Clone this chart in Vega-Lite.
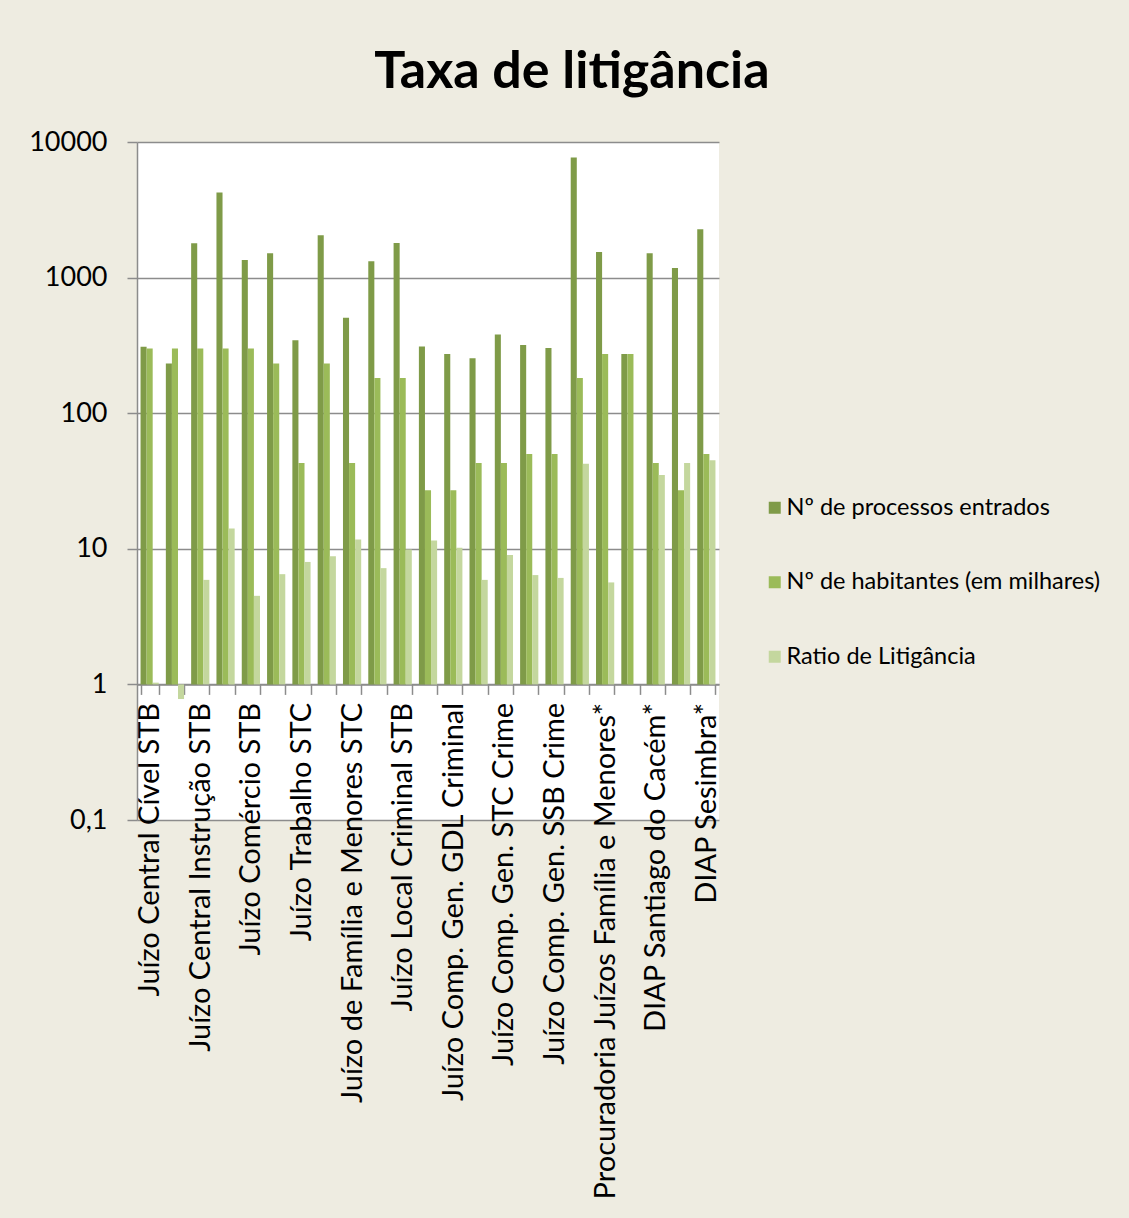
{
  "$schema": "https://vega.github.io/schema/vega-lite/v6.json",
  "autosize": {"type": "none"},
  "width": 582,
  "height": 678,
  "padding": {"left": 137, "top": 142, "right": 410, "bottom": 398},
  "background": "#EEECE1",
  "title": {
    "text": "Taxa de litigância",
    "font": "Lato",
    "fontSize": 52,
    "fontWeight": "bold",
    "color": "#000000",
    "anchor": "middle",
    "frame": "group",
    "dx": 144,
    "baseline": "alphabetic",
    "offset": -12
  },
  "data": {
    "values": [
      {"cat": "Juízo Central Cível STB", "serie": "Nº de processos entrados", "valor": 309},
      {"cat": "Juízo Central Cível STB", "serie": "Nº de habitantes (em milhares)", "valor": 300},
      {"cat": "Juízo Central Cível STB", "serie": "Ratio de Litigância", "valor": 1.03},
      {"cat": "Juízo Central Criminal STB", "serie": "Nº de processos entrados", "valor": 233},
      {"cat": "Juízo Central Criminal STB", "serie": "Nº de habitantes (em milhares)", "valor": 300},
      {"cat": "Juízo Central Criminal STB", "serie": "Ratio de Litigância", "valor": 0.78},
      {"cat": "Juízo Central Instrução STB", "serie": "Nº de processos entrados", "valor": 1790},
      {"cat": "Juízo Central Instrução STB", "serie": "Nº de habitantes (em milhares)", "valor": 300},
      {"cat": "Juízo Central Instrução STB", "serie": "Ratio de Litigância", "valor": 5.9},
      {"cat": "Juízo Execução STB", "serie": "Nº de processos entrados", "valor": 4250},
      {"cat": "Juízo Execução STB", "serie": "Nº de habitantes (em milhares)", "valor": 300},
      {"cat": "Juízo Execução STB", "serie": "Ratio de Litigância", "valor": 14.1},
      {"cat": "Juízo Comércio STB", "serie": "Nº de processos entrados", "valor": 1350},
      {"cat": "Juízo Comércio STB", "serie": "Nº de habitantes (em milhares)", "valor": 300},
      {"cat": "Juízo Comércio STB", "serie": "Ratio de Litigância", "valor": 4.5},
      {"cat": "Juízo Trabalho STB", "serie": "Nº de processos entrados", "valor": 1510},
      {"cat": "Juízo Trabalho STB", "serie": "Nº de habitantes (em milhares)", "valor": 233},
      {"cat": "Juízo Trabalho STB", "serie": "Ratio de Litigância", "valor": 6.5},
      {"cat": "Juízo Trabalho STC", "serie": "Nº de processos entrados", "valor": 345},
      {"cat": "Juízo Trabalho STC", "serie": "Nº de habitantes (em milhares)", "valor": 43},
      {"cat": "Juízo Trabalho STC", "serie": "Ratio de Litigância", "valor": 8.0},
      {"cat": "Juízo de Família e Menores STB", "serie": "Nº de processos entrados", "valor": 2050},
      {"cat": "Juízo de Família e Menores STB", "serie": "Nº de habitantes (em milhares)", "valor": 233},
      {"cat": "Juízo de Família e Menores STB", "serie": "Ratio de Litigância", "valor": 8.8},
      {"cat": "Juízo de Família e Menores STC", "serie": "Nº de processos entrados", "valor": 505},
      {"cat": "Juízo de Família e Menores STC", "serie": "Nº de habitantes (em milhares)", "valor": 43},
      {"cat": "Juízo de Família e Menores STC", "serie": "Ratio de Litigância", "valor": 11.7},
      {"cat": "Juízo Local Cível STB", "serie": "Nº de processos entrados", "valor": 1320},
      {"cat": "Juízo Local Cível STB", "serie": "Nº de habitantes (em milhares)", "valor": 182},
      {"cat": "Juízo Local Cível STB", "serie": "Ratio de Litigância", "valor": 7.2},
      {"cat": "Juízo Local Criminal STB", "serie": "Nº de processos entrados", "valor": 1800},
      {"cat": "Juízo Local Criminal STB", "serie": "Nº de habitantes (em milhares)", "valor": 182},
      {"cat": "Juízo Local Criminal STB", "serie": "Ratio de Litigância", "valor": 9.9},
      {"cat": "Juízo Comp. Gen. GDL Cível", "serie": "Nº de processos entrados", "valor": 311},
      {"cat": "Juízo Comp. Gen. GDL Cível", "serie": "Nº de habitantes (em milhares)", "valor": 27},
      {"cat": "Juízo Comp. Gen. GDL Cível", "serie": "Ratio de Litigância", "valor": 11.5},
      {"cat": "Juízo Comp. Gen. GDL Criminal", "serie": "Nº de processos entrados", "valor": 273},
      {"cat": "Juízo Comp. Gen. GDL Criminal", "serie": "Nº de habitantes (em milhares)", "valor": 27},
      {"cat": "Juízo Comp. Gen. GDL Criminal", "serie": "Ratio de Litigância", "valor": 10.2},
      {"cat": "Juízo Comp. Gen. STC Cível", "serie": "Nº de processos entrados", "valor": 254},
      {"cat": "Juízo Comp. Gen. STC Cível", "serie": "Nº de habitantes (em milhares)", "valor": 43},
      {"cat": "Juízo Comp. Gen. STC Cível", "serie": "Ratio de Litigância", "valor": 5.9},
      {"cat": "Juízo Comp. Gen. STC Crime", "serie": "Nº de processos entrados", "valor": 381},
      {"cat": "Juízo Comp. Gen. STC Crime", "serie": "Nº de habitantes (em milhares)", "valor": 43},
      {"cat": "Juízo Comp. Gen. STC Crime", "serie": "Ratio de Litigância", "valor": 9.0},
      {"cat": "Juízo Comp. Gen. SSB Cível", "serie": "Nº de processos entrados", "valor": 319},
      {"cat": "Juízo Comp. Gen. SSB Cível", "serie": "Nº de habitantes (em milhares)", "valor": 50},
      {"cat": "Juízo Comp. Gen. SSB Cível", "serie": "Ratio de Litigância", "valor": 6.4},
      {"cat": "Juízo Comp. Gen. SSB Crime", "serie": "Nº de processos entrados", "valor": 302},
      {"cat": "Juízo Comp. Gen. SSB Crime", "serie": "Nº de habitantes (em milhares)", "valor": 50},
      {"cat": "Juízo Comp. Gen. SSB Crime", "serie": "Ratio de Litigância", "valor": 6.1},
      {"cat": "DIAP Setúbal*", "serie": "Nº de processos entrados", "valor": 7700},
      {"cat": "DIAP Setúbal*", "serie": "Nº de habitantes (em milhares)", "valor": 182},
      {"cat": "DIAP Setúbal*", "serie": "Ratio de Litigância", "valor": 42.3},
      {"cat": "Procuradoria Juízos Família e Menores*", "serie": "Nº de processos entrados", "valor": 1545},
      {"cat": "Procuradoria Juízos Família e Menores*", "serie": "Nº de habitantes (em milhares)", "valor": 273},
      {"cat": "Procuradoria Juízos Família e Menores*", "serie": "Ratio de Litigância", "valor": 5.65},
      {"cat": "Procuradoria Juízos do Trabalho*", "serie": "Nº de processos entrados", "valor": 273},
      {"cat": "Procuradoria Juízos do Trabalho*", "serie": "Nº de habitantes (em milhares)", "valor": 273},
      {"cat": "Procuradoria Juízos do Trabalho*", "serie": "Ratio de Litigância", "valor": 1.0},
      {"cat": "DIAP Santiago do Cacém*", "serie": "Nº de processos entrados", "valor": 1510},
      {"cat": "DIAP Santiago do Cacém*", "serie": "Nº de habitantes (em milhares)", "valor": 43},
      {"cat": "DIAP Santiago do Cacém*", "serie": "Ratio de Litigância", "valor": 35},
      {"cat": "DIAP Seixal*", "serie": "Nº de processos entrados", "valor": 1175},
      {"cat": "DIAP Seixal*", "serie": "Nº de habitantes (em milhares)", "valor": 27},
      {"cat": "DIAP Seixal*", "serie": "Ratio de Litigância", "valor": 43},
      {"cat": "DIAP Sesimbra*", "serie": "Nº de processos entrados", "valor": 2270},
      {"cat": "DIAP Sesimbra*", "serie": "Nº de habitantes (em milhares)", "valor": 50},
      {"cat": "DIAP Sesimbra*", "serie": "Ratio de Litigância", "valor": 45}
    ]
  },
  "mark": {"type": "bar"},
  "encoding": {
    "x": {
      "field": "cat",
      "type": "nominal",
      "sort": null,
      "scale": {"paddingInner": 0.28, "paddingOuter": 0.14},
      "axis": {
        "title": null,
        "offset": -135.6,
        "labelAngle": -90,
        "labelFont": "Lato",
        "labelFontSize": 29,
        "labelColor": "#000000",
        "labelPadding": 8,
        "labelLimit": 700,
        "labelOverlap": false,
        "labelExpr": "indexof(['Juízo Central Cível STB','Juízo Central Instrução STB','Juízo Comércio STB','Juízo Trabalho STC','Juízo de Família e Menores STC','Juízo Local Criminal STB','Juízo Comp. Gen. GDL Criminal','Juízo Comp. Gen. STC Crime','Juízo Comp. Gen. SSB Crime','Procuradoria Juízos Família e Menores*','DIAP Santiago do Cacém*','DIAP Sesimbra*'], datum.value) >= 0 ? datum.value : ''",
        "tickBand": "extent",
        "ticks": true,
        "tickSize": 10,
        "tickColor": "#8c8c8c",
        "tickWidth": 1.5,
        "domainColor": "#8c8c8c",
        "domainWidth": 1.5,
        "grid": false
      }
    },
    "xOffset": {
      "field": "serie",
      "type": "nominal",
      "sort": null,
      "scale": {"paddingInner": 0, "paddingOuter": 0}
    },
    "y": {
      "field": "valor",
      "type": "quantitative",
      "scale": {"type": "log", "domain": [0.1, 10000], "nice": false},
      "axis": {
        "title": null,
        "values": [0.1, 1, 10, 100, 1000, 10000],
        "labelExpr": "datum.value < 1 ? '0,1' : format(datum.value, 'd')",
        "labelFont": "Lato",
        "labelFontSize": 27,
        "labelColor": "#000000",
        "labelPadding": 20,
        "tickSize": 10,
        "tickColor": "#8c8c8c",
        "tickWidth": 1.5,
        "domainColor": "#8c8c8c",
        "domainWidth": 1.5,
        "grid": true,
        "gridColor": "#8c8c8c",
        "gridWidth": 1.5
      }
    },
    "y2": {"datum": 1},
    "color": {
      "field": "serie",
      "type": "nominal",
      "scale": {
        "domain": ["Nº de processos entrados", "Nº de habitantes (em milhares)", "Ratio de Litigância"],
        "range": ["#7F9B48", "#9BBB59", "#C4D79E"]
      },
      "legend": {
        "title": null,
        "orient": "none",
        "legendX": 626,
        "legendY": 354,
        "symbolType": "square",
        "symbolSize": 144,
        "symbolStrokeWidth": 0,
        "symbolOpacity": 1,
        "labelFont": "Lato",
        "labelFontSize": 23.5,
        "labelColor": "#000000",
        "labelOffset": 0,
        "labelLimit": 400,
        "rowPadding": 49.5
      }
    }
  },
  "config": {
    "view": {"fill": "#ffffff", "stroke": null}
  }
}
